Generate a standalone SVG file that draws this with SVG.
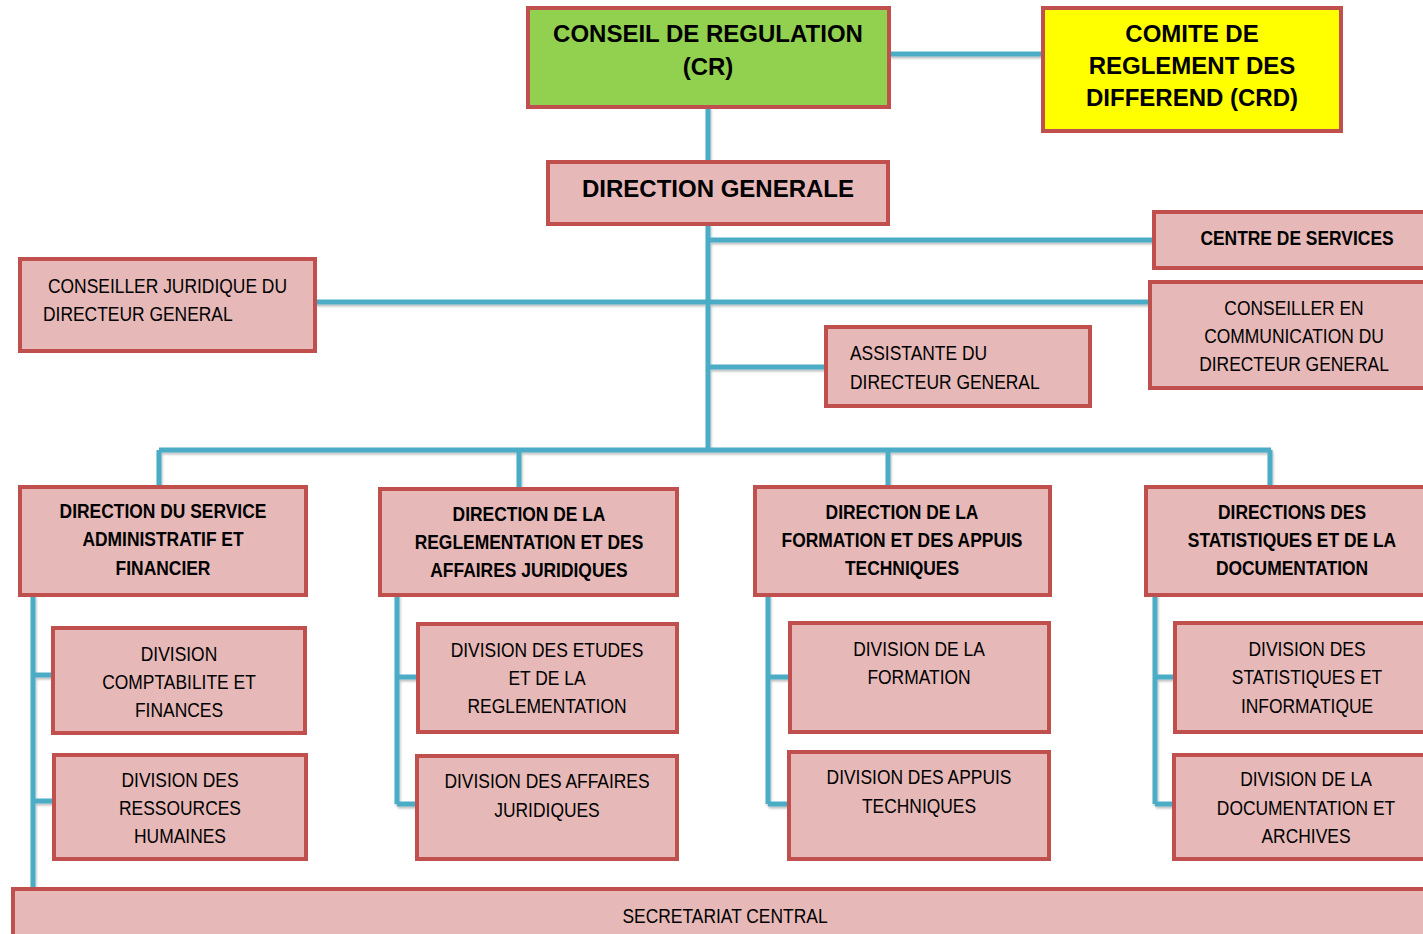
<svg xmlns="http://www.w3.org/2000/svg" width="1423" height="934" viewBox="0 0 1423 934">
<style>
.box{fill:#E6B8B7;stroke:#C0504D;stroke-width:4}
.green{fill:#92D050}
.yellow{fill:#FFFF00}
.c{stroke:#4BACC6;stroke-width:5;fill:none}
text{font-family:"Liberation Sans",Arial,sans-serif;fill:#000}
.b24{font-size:24px;font-weight:bold;text-anchor:middle}
.b21{font-size:21px;font-weight:bold;text-anchor:middle}
.r21{font-size:21px;text-anchor:middle}
.l21{font-size:21px;text-anchor:start}
</style>
<defs>
<filter id="sh" x="-5%" y="-5%" width="110%" height="120%">
<feDropShadow dx="1" dy="2" stdDeviation="1.2" flood-color="#000" flood-opacity="0.25"/>
</filter>
</defs>
<g id="connectors" filter="url(#sh)">
<path class="c" d="M889 54H1043"/>
<path class="c" d="M708 107V162"/>
<path class="c" d="M708 224V450"/>
<path class="c" d="M708 240H1154"/>
<path class="c" d="M315 302H1150"/>
<path class="c" d="M708 367H826"/>
<path class="c" d="M159 450H1271"/>
<path class="c" d="M159 450V487M519 450V489M888 450V487M1270 450V487"/>
<path class="c" d="M33 595V889M33 675H53M33 801H54"/>
<path class="c" d="M397 595V804M397 677H418M397 804H417"/>
<path class="c" d="M768 595V804M768 677H790M768 804H789"/>
<path class="c" d="M1155 595V804M1155 677H1175M1155 804H1174"/>
</g>
<g id="cr">
<rect class="box green" x="528" y="8" width="361" height="99"/>
<text class="b24" x="708" y="42">CONSEIL DE REGULATION</text>
<text class="b24" x="708" y="75">(CR)</text>
</g>
<g id="crd">
<rect class="box yellow" x="1043" y="8" width="298" height="123"/>
<text class="b24" x="1192" y="42">COMITE DE</text>
<text class="b24" x="1192" y="74">REGLEMENT DES</text>
<text class="b24" x="1192" y="106">DIFFEREND (CRD)</text>
</g>
<g id="dg">
<rect class="box" x="548" y="162" width="340" height="62"/>
<text class="b24" x="718" y="197">DIRECTION GENERALE</text>
</g>
<g id="centre-services">
<rect class="box" x="1154" y="212" width="275" height="56"/>
<g transform="translate(1297 0) scale(0.83 1)"><text class="b21" x="0" y="245">CENTRE DE SERVICES</text></g>
</g>
<g id="conseiller-juridique">
<rect class="box" x="20" y="259" width="295" height="92"/>
<g transform="translate(43 0) scale(0.83 1)">
<text class="l21" x="6" y="293">CONSEILLER JURIDIQUE DU</text>
<text class="l21" x="0" y="321">DIRECTEUR GENERAL</text>
</g>
</g>
<g id="conseiller-communication">
<rect class="box" x="1150" y="282" width="280" height="106"/>
<g transform="translate(1294 0) scale(0.83 1)">
<text class="r21" x="0" y="315">CONSEILLER EN</text>
<text class="r21" x="0" y="343">COMMUNICATION DU</text>
<text class="r21" x="0" y="371">DIRECTEUR GENERAL</text>
</g>
</g>
<g id="assistante">
<rect class="box" x="826" y="327" width="264" height="79"/>
<g transform="translate(850 0) scale(0.83 1)">
<text class="l21" x="0" y="360">ASSISTANTE DU</text>
<text class="l21" x="0" y="389">DIRECTEUR GENERAL</text>
</g>
</g>
<g id="dsaf">
<rect class="box" x="20" y="487" width="286" height="108"/>
<g transform="translate(163 0) scale(0.83 1)">
<text class="b21" x="0" y="518">DIRECTION DU SERVICE</text>
<text class="b21" x="0" y="546">ADMINISTRATIF ET</text>
<text class="b21" x="0" y="575">FINANCIER</text>
</g>
</g>
<g id="draj">
<rect class="box" x="380" y="489" width="297" height="106"/>
<g transform="translate(529 0) scale(0.83 1)">
<text class="b21" x="0" y="521">DIRECTION DE LA</text>
<text class="b21" x="0" y="549">REGLEMENTATION ET DES</text>
<text class="b21" x="0" y="577">AFFAIRES JURIDIQUES</text>
</g>
</g>
<g id="dfat">
<rect class="box" x="755" y="487" width="295" height="108"/>
<g transform="translate(902 0) scale(0.83 1)">
<text class="b21" x="0" y="519">DIRECTION DE LA</text>
<text class="b21" x="0" y="547">FORMATION ET DES APPUIS</text>
<text class="b21" x="0" y="575">TECHNIQUES</text>
</g>
</g>
<g id="dsd">
<rect class="box" x="1146" y="487" width="284" height="108"/>
<g transform="translate(1292 0) scale(0.83 1)">
<text class="b21" x="0" y="519">DIRECTIONS DES</text>
<text class="b21" x="0" y="547">STATISTIQUES ET DE LA</text>
<text class="b21" x="0" y="575">DOCUMENTATION</text>
</g>
</g>
<g id="div-compta">
<rect class="box" x="53" y="628" width="252" height="105"/>
<g transform="translate(179 0) scale(0.83 1)">
<text class="r21" x="0" y="661">DIVISION</text>
<text class="r21" x="0" y="689">COMPTABILITE ET</text>
<text class="r21" x="0" y="717">FINANCES</text>
</g>
</g>
<g id="div-rh">
<rect class="box" x="54" y="755" width="252" height="104"/>
<g transform="translate(180 0) scale(0.83 1)">
<text class="r21" x="0" y="787">DIVISION DES</text>
<text class="r21" x="0" y="815">RESSOURCES</text>
<text class="r21" x="0" y="843">HUMAINES</text>
</g>
</g>
<g id="div-etudes">
<rect class="box" x="418" y="624" width="259" height="108"/>
<g transform="translate(547 0) scale(0.83 1)">
<text class="r21" x="0" y="657">DIVISION DES ETUDES</text>
<text class="r21" x="0" y="685">ET DE LA</text>
<text class="r21" x="0" y="713">REGLEMENTATION</text>
</g>
</g>
<g id="div-affaires">
<rect class="box" x="417" y="756" width="260" height="103"/>
<g transform="translate(547 0) scale(0.83 1)">
<text class="r21" x="0" y="788">DIVISION DES AFFAIRES</text>
<text class="r21" x="0" y="817">JURIDIQUES</text>
</g>
</g>
<g id="div-formation">
<rect class="box" x="790" y="623" width="259" height="109"/>
<g transform="translate(919 0) scale(0.83 1)">
<text class="r21" x="0" y="656">DIVISION DE LA</text>
<text class="r21" x="0" y="684">FORMATION</text>
</g>
</g>
<g id="div-appuis">
<rect class="box" x="789" y="752" width="260" height="107"/>
<g transform="translate(919 0) scale(0.83 1)">
<text class="r21" x="0" y="784">DIVISION DES APPUIS</text>
<text class="r21" x="0" y="813">TECHNIQUES</text>
</g>
</g>
<g id="div-stats">
<rect class="box" x="1175" y="623" width="255" height="109"/>
<g transform="translate(1307 0) scale(0.83 1)">
<text class="r21" x="0" y="656">DIVISION DES</text>
<text class="r21" x="0" y="684">STATISTIQUES ET</text>
<text class="r21" x="0" y="713">INFORMATIQUE</text>
</g>
</g>
<g id="div-doc">
<rect class="box" x="1174" y="755" width="256" height="104"/>
<g transform="translate(1306 0) scale(0.83 1)">
<text class="r21" x="0" y="786">DIVISION DE LA</text>
<text class="r21" x="0" y="815">DOCUMENTATION ET</text>
<text class="r21" x="0" y="843">ARCHIVES</text>
</g>
</g>
<g id="secretariat">
<rect class="box" x="13" y="889" width="1420" height="60"/>
<g transform="translate(725 0) scale(0.83 1)">
<text class="r21" x="0" y="923">SECRETARIAT CENTRAL</text>
</g>
</g>
</svg>
